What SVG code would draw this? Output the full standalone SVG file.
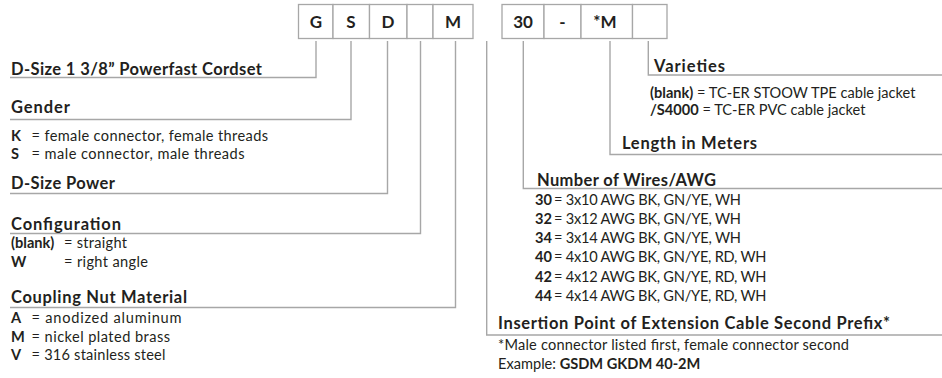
<svg xmlns="http://www.w3.org/2000/svg" width="942" height="378" viewBox="0 0 942 378">
<style>
text{font-family:Lato,"Open Sans","Liberation Sans",sans-serif;fill:#231f20}
.h{font-size:16.5px;font-weight:700}
.b{font-size:14.6px}
.k{font-size:14.6px;font-weight:700}
.c{font-size:17px;font-weight:700;text-anchor:middle}
.box{fill:#fff;stroke:#a7a7a7;stroke-width:1.3}
.ln{fill:none;stroke:#a7a7a7;stroke-width:1.4}
</style>
<rect width="942" height="378" fill="#fff"/>
<g id="code">
<rect class="box" x="298.5" y="4.5" width="34.5" height="34"/>
<rect class="box" x="333" y="4.5" width="36.5" height="34"/>
<rect class="box" x="369.5" y="4.5" width="37.5" height="34"/>
<rect class="box" x="407" y="4.5" width="26" height="34"/>
<rect class="box" x="433" y="4.5" width="40" height="34"/>
<rect class="box" x="502" y="4.5" width="42" height="34"/>
<rect class="box" x="544" y="4.5" width="37" height="34"/>
<rect class="box" x="581" y="4.5" width="51.5" height="34"/>
<rect class="box" x="632.5" y="4.5" width="34.5" height="34"/>
<text class="c" x="316" y="28">G</text>
<text class="c" x="351" y="28">S</text>
<text class="c" x="388" y="28">D</text>
<text class="c" x="453" y="28">M</text>
<text class="c" x="523" y="28">30</text>
<text class="c" x="562.5" y="28">-</text>
<text class="c" x="605" y="28">*M</text>
</g>
<g id="connectors">
<path class="ln" d="M316,41V77.5H10"/>
<path class="ln" d="M351,41V119.5H10"/>
<path class="ln" d="M387.5,41V193.5H10"/>
<path class="ln" d="M420.5,41V233.5H10"/>
<path class="ln" d="M455.5,41V307.5H10"/>
<path class="ln" d="M486.7,41V335H942"/>
<path class="ln" d="M523.3,41V188.5H942"/>
<path class="ln" d="M610,41V154.5H942"/>
<path class="ln" d="M648.3,41V75H942"/>
</g>
<g id="cordset">
<text class="h" x="11" y="75" textLength="251">D-Size 1 3/8” Powerfast Cordset</text>
</g>
<g id="gender">
<text class="h" x="11" y="113" textLength="59">Gender</text>
<text class="k" x="11" y="141">K</text>
<text class="b" x="31.5" y="141" textLength="236.5">= female connector, female threads</text>
<text class="k" x="11" y="158.5">S</text>
<text class="b" x="31.5" y="158.5" textLength="213">= male connector, male threads</text>
</g>
<g id="power">
<text class="h" x="11" y="189" textLength="104">D-Size Power</text>
</g>
<g id="configuration">
<text class="h" x="11" y="229.5" textLength="110">Configuration</text>
<text class="k" x="11" y="248">(blank)</text>
<text class="b" x="64" y="248" textLength="63">= straight</text>
<text class="k" x="11" y="267">W</text>
<text class="b" x="64" y="267" textLength="84">= right angle</text>
</g>
<g id="material">
<text class="h" x="11" y="302.5" textLength="176">Coupling Nut Material</text>
<text class="k" x="11" y="322.5">A</text>
<text class="b" x="31.5" y="322.5" textLength="150">= anodized aluminum</text>
<text class="k" x="11" y="341.5">M</text>
<text class="b" x="31.5" y="341.5" textLength="138.5">= nickel plated brass</text>
<text class="k" x="11" y="360">V</text>
<text class="b" x="31.5" y="360" textLength="134">= 316 stainless steel</text>
</g>
<g id="varieties">
<text class="h" x="654" y="72" textLength="71">Varieties</text>
<text class="b" x="650" y="97.5"><tspan font-weight="700">(blank)</tspan> = TC-ER STOOW TPE cable jacket</text>
<text class="b" x="650" y="115"><tspan font-weight="700">/S4000</tspan> = TC-ER PVC cable jacket</text>
</g>
<g id="length">
<text class="h" x="622" y="149.3" textLength="135">Length in Meters</text>
</g>
<g id="wires">
<text class="h" x="537" y="185.5" textLength="179">Number of Wires/AWG</text>
<text class="k" x="535" y="205">30</text>
<text class="b" x="554" y="205" textLength="187">= 3x10 AWG BK, GN/YE, WH</text>
<text class="k" x="535" y="224.3">32</text>
<text class="b" x="554" y="224.3" textLength="187">= 3x12 AWG BK, GN/YE, WH</text>
<text class="k" x="535" y="243.3">34</text>
<text class="b" x="554" y="243.3" textLength="187">= 3x14 AWG BK, GN/YE, WH</text>
<text class="k" x="535" y="262.3">40</text>
<text class="b" x="554" y="262.3" textLength="212.5">= 4x10 AWG BK, GN/YE, RD, WH</text>
<text class="k" x="535" y="281.5">42</text>
<text class="b" x="554" y="281.5" textLength="212.5">= 4x12 AWG BK, GN/YE, RD, WH</text>
<text class="k" x="535" y="300.5">44</text>
<text class="b" x="554" y="300.5" textLength="212.5">= 4x14 AWG BK, GN/YE, RD, WH</text>
</g>
<g id="insertion">
<text class="h" x="498" y="329.3" textLength="392">Insertion Point of Extension Cable Second Prefix*</text>
<text class="b" x="498" y="350" textLength="351">*Male connector listed first, female connector second</text>
<text class="b" x="498" y="369.3">Example: <tspan font-weight="700">GSDM GKDM 40-2M</tspan></text>
</g>
</svg>
